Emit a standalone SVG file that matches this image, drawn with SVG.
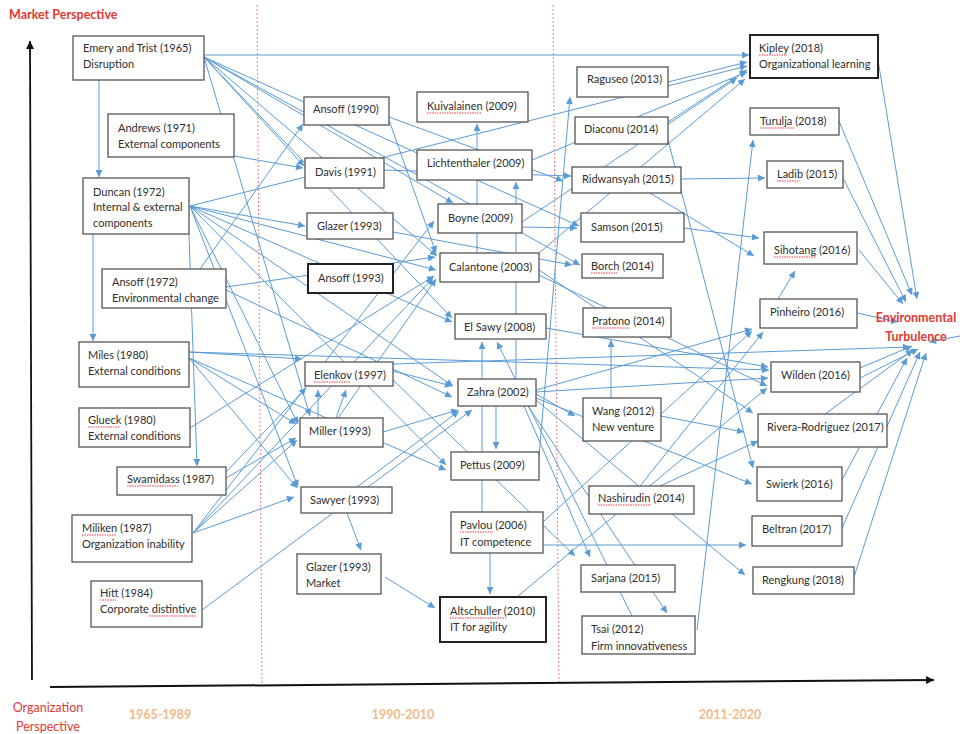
<svg xmlns="http://www.w3.org/2000/svg" width="960" height="734" viewBox="0 0 960 734">
<defs>
<marker id="a" viewBox="0 0 10 10" refX="10" refY="5" markerWidth="8" markerHeight="7" markerUnits="userSpaceOnUse" orient="auto"><path d="M0,0 L10,5 L0,10 z" fill="#5b9bd5"/></marker>
<marker id="k" viewBox="0 0 10 10" refX="10" refY="5" markerWidth="9" markerHeight="8" markerUnits="userSpaceOnUse" orient="auto"><path d="M0,0 L10,5 L0,10 z" fill="#111"/></marker>
<style>
.c line{stroke:#5b9bd5;stroke-width:1;fill:none;marker-end:url(#a)}
.n rect{fill:#fff;stroke:#555;stroke-width:1.3}
.n rect.b{stroke:#222;stroke-width:2}
.n text{font-family:Lato,"Liberation Sans",sans-serif;font-size:11px;fill:#2e2e2e}
.sp{stroke:#e23;stroke-width:0.9;stroke-dasharray:1.5,1;fill:none}
.red{font-family:Lato,"Liberation Sans",sans-serif;fill:#e03a32}
.per{font-family:Lato,"Liberation Sans",sans-serif;font-size:12.5px;font-weight:bold;fill:#f4b98a}
</style>
</defs>
<rect width="960" height="734" fill="#fff"/>
<!-- period dividers -->
<line x1="257" y1="5" x2="262" y2="684" stroke="#f08080" stroke-width="1" stroke-dasharray="2,2"/>
<line x1="553" y1="5" x2="559" y2="684" stroke="#f08080" stroke-width="1" stroke-dasharray="2,2"/>
<!-- axes -->
<g id="axes">
<line x1="32" y1="680" x2="30" y2="41" stroke="#111" stroke-width="1.8" marker-end="url(#k)"/>
<line x1="50" y1="687" x2="934" y2="680" stroke="#111" stroke-width="2" marker-end="url(#k)"/>
</g>
<g id="connectors" class="c">
<line x1="99" y1="80" x2="99" y2="177"/>
<line x1="93" y1="234" x2="93" y2="341"/>
<line x1="189" y1="234" x2="197" y2="466"/>
<line x1="204" y1="55" x2="749" y2="55"/>
<line x1="204" y1="57" x2="304" y2="166"/>
<line x1="204" y1="57" x2="453" y2="203"/>
<line x1="204" y1="57" x2="437" y2="256"/>
<line x1="204" y1="57" x2="579" y2="226"/>
<line x1="204" y1="57" x2="580" y2="265"/>
<line x1="204" y1="57" x2="310" y2="416"/>
<line x1="204" y1="57" x2="452" y2="318"/>
<line x1="234" y1="156" x2="303" y2="168"/>
<line x1="190" y1="206" x2="747" y2="66"/>
<line x1="190" y1="206" x2="305" y2="226"/>
<line x1="190" y1="206" x2="436" y2="270"/>
<line x1="190" y1="206" x2="452" y2="322"/>
<line x1="190" y1="206" x2="453" y2="386"/>
<line x1="190" y1="206" x2="298" y2="424"/>
<line x1="190" y1="206" x2="298" y2="487"/>
<line x1="190" y1="206" x2="446" y2="465"/>
<line x1="200" y1="269" x2="303" y2="124"/>
<line x1="226" y1="287" x2="435" y2="257"/>
<line x1="226" y1="290" x2="452" y2="397"/>
<line x1="189" y1="352" x2="302" y2="359"/>
<line x1="189" y1="352" x2="769" y2="370"/>
<line x1="189" y1="358" x2="296" y2="424"/>
<line x1="189" y1="358" x2="297" y2="488"/>
<line x1="189" y1="358" x2="446" y2="470"/>
<line x1="190" y1="428" x2="434" y2="276"/>
<line x1="226" y1="478" x2="296" y2="438"/>
<line x1="226" y1="472" x2="306" y2="388"/>
<line x1="193" y1="533" x2="294" y2="497"/>
<line x1="193" y1="533" x2="297" y2="440"/>
<line x1="193" y1="533" x2="434" y2="221"/>
<line x1="193" y1="533" x2="433" y2="278"/>
<line x1="202" y1="610" x2="472" y2="410"/>
<line x1="318" y1="418" x2="318" y2="390"/>
<line x1="336" y1="418" x2="346" y2="390"/>
<line x1="383" y1="432" x2="458" y2="410"/>
<line x1="338" y1="418" x2="436" y2="279"/>
<line x1="347" y1="513" x2="361" y2="550"/>
<line x1="385" y1="577" x2="435" y2="608"/>
<line x1="490" y1="553" x2="490" y2="594"/>
<line x1="482" y1="512" x2="482" y2="342"/>
<line x1="496" y1="406" x2="496" y2="449"/>
<line x1="357" y1="487" x2="459" y2="411"/>
<line x1="477" y1="253" x2="477" y2="124"/>
<line x1="516" y1="379" x2="516" y2="182"/>
<line x1="632" y1="616" x2="497" y2="342"/>
<line x1="528" y1="406" x2="667" y2="613"/>
<line x1="393" y1="371" x2="452" y2="386"/>
<line x1="393" y1="380" x2="575" y2="556"/>
<line x1="524" y1="406" x2="590" y2="557"/>
<line x1="393" y1="364" x2="910" y2="347"/>
<line x1="536" y1="394" x2="575" y2="416"/>
<line x1="536" y1="392" x2="768" y2="378"/>
<line x1="536" y1="390" x2="752" y2="329"/>
<line x1="536" y1="398" x2="752" y2="484"/>
<line x1="536" y1="400" x2="745" y2="575"/>
<line x1="546" y1="328" x2="768" y2="367"/>
<line x1="539" y1="275" x2="767" y2="386"/>
<line x1="539" y1="270" x2="753" y2="413"/>
<line x1="539" y1="253" x2="745" y2="79"/>
<line x1="522" y1="222" x2="737" y2="78"/>
<line x1="522" y1="227" x2="577" y2="228"/>
<line x1="532" y1="160" x2="747" y2="72"/>
<line x1="668" y1="82" x2="747" y2="62"/>
<line x1="668" y1="122" x2="747" y2="70"/>
<line x1="389" y1="117" x2="563" y2="181"/>
<line x1="389" y1="120" x2="436" y2="253"/>
<line x1="384" y1="170" x2="571" y2="176"/>
<line x1="393" y1="232" x2="572" y2="265"/>
<line x1="539" y1="456" x2="570" y2="97"/>
<line x1="681" y1="179" x2="765" y2="178"/>
<line x1="650" y1="193" x2="754" y2="256"/>
<line x1="684" y1="228" x2="759" y2="238"/>
<line x1="668" y1="140" x2="753" y2="468"/>
<line x1="697" y1="630" x2="753" y2="140"/>
<line x1="611" y1="398" x2="611" y2="340"/>
<line x1="661" y1="416" x2="744" y2="432"/>
<line x1="778" y1="299" x2="795" y2="271"/>
<line x1="640" y1="486" x2="763" y2="332"/>
<line x1="660" y1="486" x2="758" y2="441"/>
<line x1="517" y1="597" x2="767" y2="388"/>
<line x1="543" y1="545" x2="746" y2="545"/>
<line x1="543" y1="522" x2="752" y2="331"/>
<line x1="878" y1="60" x2="917" y2="299"/>
<line x1="839" y1="121" x2="912" y2="295"/>
<line x1="843" y1="178" x2="906" y2="302"/>
<line x1="859" y1="250" x2="903" y2="304"/>
<line x1="857" y1="313" x2="898" y2="322"/>
<line x1="860" y1="368" x2="912" y2="346"/>
<line x1="860" y1="378" x2="918" y2="349"/>
<line x1="825" y1="414" x2="913" y2="350"/>
<line x1="842" y1="480" x2="907" y2="358"/>
<line x1="842" y1="528" x2="920" y2="352"/>
<line x1="854" y1="577" x2="926" y2="353"/>
<line x1="960" y1="336" x2="929" y2="342"/>
</g>
<g class="n">
<g id="emery"><rect x="73" y="36" width="131" height="44"/><text x="83" y="52">Emery and Trist (1965)</text><text x="83" y="68">Disruption</text></g>
<g id="andrews"><rect x="108" y="114" width="126" height="43"/><text x="118" y="132">Andrews (1971)</text><text x="118" y="148">External components</text></g>
<g id="duncan"><rect x="83" y="178" width="106" height="56"/><text x="93" y="196">Duncan (1972)</text><text x="93" y="211">Internal &amp; external</text><text x="93" y="227">components</text></g>
<g id="ansoff72"><rect x="102" y="269" width="124" height="39"/><text x="112" y="286">Ansoff (1972)</text><text x="112" y="302">Environmental change</text></g>
<g id="miles"><rect x="79" y="342" width="110" height="45"/><text x="88" y="359">Miles (1980)</text><text x="88" y="375">External conditions</text></g>
<g id="glueck"><rect x="79" y="408" width="111" height="39"/><text x="88" y="424">Glueck (1980)</text><text x="88" y="440">External conditions</text></g>
<g id="swamidass"><rect x="117" y="467" width="109" height="28"/><text x="127" y="483">Swamidass (1987)</text></g>
<g id="miliken"><rect x="72" y="515" width="120" height="47"/><text x="82" y="532">Miliken (1987)</text><text x="82" y="548">Organization inability</text></g>
<g id="hitt"><rect x="91" y="581" width="111" height="46"/><text x="100" y="597">Hitt (1984)</text><text x="100" y="613">Corporate distintive</text></g>
<g id="ansoff90"><rect x="304" y="97" width="85" height="28"/><text x="313" y="113">Ansoff (1990)</text></g>
<g id="davis"><rect x="305" y="158" width="79" height="30"/><text x="315" y="176">Davis (1991)</text></g>
<g id="glazer93"><rect x="307" y="213" width="86" height="26"/><text x="317" y="230">Glazer (1993)</text></g>
<g id="ansoff93"><rect class="b" x="308" y="264" width="85" height="29"/><text x="318" y="282">Ansoff (1993)</text></g>
<g id="elenkov"><rect x="305" y="362" width="88" height="24"/><text x="314" y="379">Elenkov (1997)</text></g>
<g id="miller"><rect x="300" y="418" width="83" height="29"/><text x="309" y="435">Miller (1993)</text></g>
<g id="sawyer"><rect x="301" y="487" width="91" height="26"/><text x="310" y="504">Sawyer (1993)</text></g>
<g id="glazermarket"><rect x="297" y="554" width="84" height="40"/><text x="306" y="571">Glazer (1993)</text><text x="306" y="587">Market</text></g>
<g id="kuivalainen"><rect x="417" y="92" width="111" height="30"/><text x="427" y="110">Kuivalainen (2009)</text></g>
<g id="lichtenthaler"><rect x="417" y="150" width="115" height="30"/><text x="427" y="167">Lichtenthaler (2009)</text></g>
<g id="boyne"><rect x="438" y="204" width="84" height="29"/><text x="448" y="222">Boyne (2009)</text></g>
<g id="calantone"><rect x="440" y="253" width="99" height="29"/><text x="449" y="271">Calantone (2003)</text></g>
<g id="elsawy"><rect x="455" y="314" width="91" height="25"/><text x="464" y="331">El Sawy (2008)</text></g>
<g id="zahra"><rect x="458" y="379" width="78" height="27"/><text x="467" y="396">Zahra (2002)</text></g>
<g id="pettus"><rect x="451" y="452" width="88" height="28"/><text x="460" y="469">Pettus (2009)</text></g>
<g id="pavlou"><rect x="451" y="512" width="92" height="41"/><text x="460" y="529">Pavlou (2006)</text><text x="460" y="546">IT competence</text></g>
<g id="altschuller"><rect class="b" x="440" y="597" width="106" height="45"/><text x="450" y="615">Altschuller (2010)</text><text x="450" y="631">IT for agility</text></g>
<g id="raguseo"><rect x="577" y="67" width="91" height="30"/><text x="587" y="83">Raguseo (2013)</text></g>
<g id="diaconu"><rect x="575" y="117" width="93" height="27"/><text x="584" y="133">Diaconu (2014)</text></g>
<g id="ridwansyah"><rect x="572" y="167" width="109" height="26"/><text x="582" y="183">Ridwansyah (2015)</text></g>
<g id="samson"><rect x="581" y="213" width="103" height="29"/><text x="591" y="231">Samson (2015)</text></g>
<g id="borch"><rect x="582" y="254" width="81" height="24"/><text x="591" y="270">Borch (2014)</text></g>
<g id="pratono"><rect x="583" y="308" width="88" height="29"/><text x="592" y="325">Pratono (2014)</text></g>
<g id="wang"><rect x="583" y="398" width="78" height="43"/><text x="592" y="415">Wang (2012)</text><text x="592" y="431">New venture</text></g>
<g id="nashirudin"><rect x="589" y="486" width="105" height="28"/><text x="598" y="502">Nashirudin (2014)</text></g>
<g id="sarjana"><rect x="581" y="565" width="94" height="27"/><text x="591" y="582">Sarjana (2015)</text></g>
<g id="tsai"><rect x="582" y="616" width="113" height="38"/><text x="591" y="633">Tsai (2012)</text><text x="591" y="650">Firm innovativeness</text></g>
<g id="kipley"><rect class="b" x="750" y="35" width="128" height="43"/><text x="759" y="52">Kipley (2018)</text><text x="759" y="68">Organizational learning</text></g>
<g id="turulja"><rect x="750" y="108" width="89" height="27"/><text x="760" y="125">Turulja (2018)</text></g>
<g id="ladib"><rect x="767" y="161" width="76" height="27"/><text x="777" y="178">Ladib (2015)</text></g>
<g id="sihotang"><rect x="764" y="232" width="93" height="32"/><text x="774" y="254">Sihotang (2016)</text></g>
<g id="pinheiro"><rect x="760" y="299" width="97" height="29"/><text x="770" y="316">Pinheiro (2016)</text></g>
<g id="wilden"><rect x="771" y="362" width="89" height="30"/><text x="781" y="379">Wilden (2016)</text></g>
<g id="rivera"><rect x="758" y="414" width="129" height="33"/><text x="767" y="431">Rivera-Rodriguez (2017)</text></g>
<g id="swierk"><rect x="757" y="467" width="85" height="34"/><text x="766" y="488">Swierk (2016)</text></g>
<g id="beltran"><rect x="752" y="516" width="90" height="30"/><text x="762" y="533">Beltran (2017)</text></g>
<g id="rengkung"><rect x="753" y="567" width="101" height="27"/><text x="762" y="584">Rengkung (2018)</text></g>
</g>
<!-- spell-check squiggles -->
<g id="squiggles">
<path class="sp" d="M427 113 H482 M759 55 H787 M760 128 H795 M777 181 H800 M774 257 H816 M591 273 H617 M592 328 H630 M314 382 H350 M88 427 H120 M127 486 H178 M82 535 H117 M100 600 H116 M149 616 H196 M460 532 H493 M450 618 H506 M598 505 H651"/>
</g>
<g id="labels">
<text class="red" x="9" y="19" font-size="12.5" font-weight="bold">Market Perspective</text>
<text class="red" x="48" y="712" font-size="12.5" text-anchor="middle">Organization</text>
<text class="red" x="48" y="731" font-size="12.5" text-anchor="middle">Perspective</text>
<g id="env"><text class="red" x="916" y="322" font-size="12.5" font-weight="bold" text-anchor="middle">Environmental</text><text class="red" x="916" y="341" font-size="12.5" font-weight="bold" text-anchor="middle">Turbulence</text></g>
<text class="per" x="160" y="719" text-anchor="middle">1965-1989</text>
<text class="per" x="403" y="719" text-anchor="middle">1990-2010</text>
<text class="per" x="730" y="719" text-anchor="middle">2011-2020</text>
</g>
</svg>
